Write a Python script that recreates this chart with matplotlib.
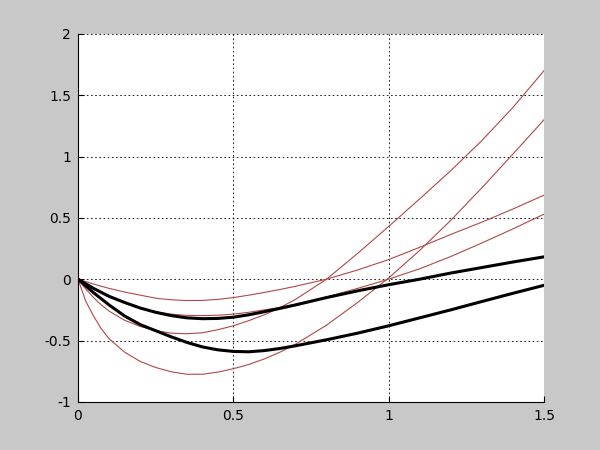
import numpy as np
import matplotlib
matplotlib.use("Agg")
import matplotlib.pyplot as plt

# shared x grid (denser near the origin where the curves bend hard)
x = [0, 0.025, 0.05, 0.075, 0.1, 0.15, 0.2, 0.25, 0.3, 0.35, 0.4, 0.45, 0.5,
     0.55, 0.6, 0.65, 0.7, 0.8, 0.9, 1.0, 1.1, 1.2, 1.3, 1.4, 1.5]

# thin red curves
red1 = [0, -0.02, -0.04, -0.058, -0.075, -0.105, -0.13, -0.155, -0.168, -0.174,
        -0.173, -0.165, -0.15, -0.13, -0.108, -0.084, -0.058, 0.0, 0.075, 0.16,
        0.26, 0.365, 0.465, 0.572, 0.685]
red2 = [0, -0.036, -0.07, -0.103, -0.135, -0.19, -0.235, -0.265, -0.285, -0.295,
        -0.297, -0.294, -0.285, -0.27, -0.25, -0.23, -0.205, -0.145, -0.075, 0.0,
        0.085, 0.185, 0.295, 0.41, 0.53]
red3 = [0, -0.08, -0.15, -0.21, -0.26, -0.335, -0.385, -0.42, -0.44, -0.445,
        -0.437, -0.412, -0.38, -0.338, -0.29, -0.232, -0.165, 0.0, 0.21, 0.43,
        0.655, 0.885, 1.13, 1.4, 1.7]
red4 = [0, -0.18, -0.3, -0.405, -0.485, -0.595, -0.67, -0.72, -0.755, -0.775,
        -0.775, -0.758, -0.73, -0.695, -0.65, -0.595, -0.53, -0.375, -0.19, 0.01,
        0.235, 0.48, 0.745, 1.02, 1.3]

# thick black curves
blk1 = [0, -0.038, -0.075, -0.108, -0.14, -0.19, -0.235, -0.27, -0.297, -0.315,
        -0.322, -0.32, -0.31, -0.29, -0.265, -0.238, -0.21, -0.15, -0.095, -0.045,
        0.0, 0.05, 0.095, 0.14, 0.182]
blk2 = [0, -0.055, -0.11, -0.16, -0.21, -0.3, -0.37, -0.42, -0.47, -0.515,
        -0.552, -0.576, -0.589, -0.592, -0.582, -0.565, -0.543, -0.494, -0.44,
        -0.38, -0.315, -0.25, -0.182, -0.115, -0.05]

xticks = [0, 0.5, 1, 1.5]
yticks = [-1, -0.5, 0, 0.5, 1, 1.5, 2]

fig = plt.figure(figsize=(6, 4.5), dpi=100, facecolor='#c8c8c8')
ax = fig.add_axes([0.13, 0.107, 0.7767, 0.8178])

for r in [red1, red2, red3, red4]:
    ax.plot(x, r, color='#b04848', lw=0.8)
for b in [blk1, blk2]:
    ax.plot(x, b, color='black', lw=2.2)

ax.set_xlim(0, 1.5)
ax.set_ylim(-1, 2)
ax.set_xticks(xticks)
ax.set_xticklabels(['0', '0.5', '1', '1.5'])
ax.set_yticks(yticks)
ax.set_yticklabels(['-1', '-0.5', '0', '0.5', '1', '1.5', '2'])
ax.grid(True, color='black', linestyle=(0, (2, 3)), linewidth=0.6)
ax.tick_params(direction='in', length=4, labelsize=10, pad=5)
ax.spines['top'].set_visible(False)
ax.spines['right'].set_visible(False)
ax.set_axisbelow(True)

plt.savefig('out.png', dpi=100, facecolor=fig.get_facecolor())
